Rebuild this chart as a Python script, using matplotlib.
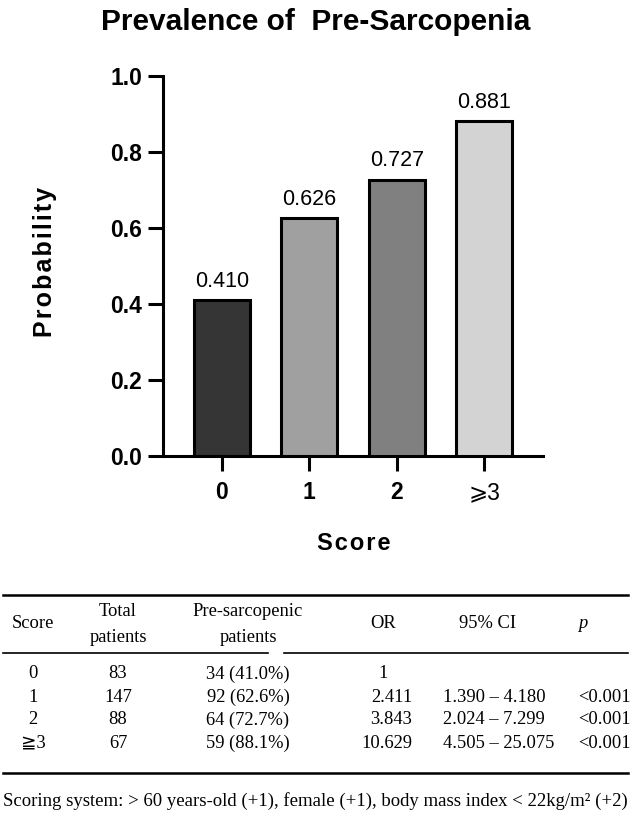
import matplotlib
matplotlib.use("Agg")
import matplotlib.pyplot as plt
from matplotlib.lines import Line2D

# ---- data ----
categories = ["0", "1", "2", "\u2A7E3"]
probability = [0.410, 0.626, 0.727, 0.881]
bar_colors = ["#353535", "#a0a0a0", "#808080", "#d3d3d3"]
y_ticks = [0.0, 0.2, 0.4, 0.6, 0.8, 1.0]

tbl_header = [["Score"], ["Total", "patients"], ["Pre-sarcopenic", "patients"], ["OR"], ["95% CI"], ["p"]]
tbl_score = ["0", "1", "2", "\u22673"]
tbl_total = ["83", "147", "88", "67"]
tbl_pre = ["34 (41.0%)", "92 (62.6%)", "64 (72.7%)", "59 (88.1%)"]
tbl_or = ["1", "2.411", "3.843", "10.629"]
tbl_ci = ["", "1.390 \u2013 4.180", "2.024 \u2013 7.299", "4.505 \u2013 25.075"]
tbl_p = ["", "<0.001", "<0.001", "<0.001"]
footnote = "Scoring system: > 60 years-old (+1), female (+1), body mass index < 22kg/m\u00b2 (+2)"

W, H = 632, 815
fig = plt.figure(figsize=(W / 100, H / 100), dpi=100)
fig.patch.set_facecolor("white")

def fx(x):
    return x / W

def fy(y):
    return 1 - y / H

def spaced(s, sep="\u200a"):
    return sep.join(list(s))

sans = ["Liberation Sans", "DejaVu Sans"]
serif = ["Liberation Serif", "DejaVu Serif", "DejaVu Sans", "Noto Sans CJK JP"]

ax = fig.add_axes([fx(163), fy(456), fx(543) - fx(163), fy(76) - fy(456)])
xs = list(range(len(categories)))
ax.bar(xs, probability, width=0.64, color=bar_colors, edgecolor="black", linewidth=2.2, zorder=3)
for x, v in zip(xs, probability):
    ax.annotate(f"{v:.3f}", (x, v), xytext=(0, 6), textcoords="offset points",
                ha="center", va="bottom", fontsize=15.5, family=sans)

ax.set_xlim(-0.674, 3.674)
ax.set_ylim(0, 1.0)
ax.set_yticks(y_ticks)
ax.set_yticklabels([f"{t:.1f}" for t in y_ticks], fontsize=16.5, fontweight="bold", family=sans)
ax.set_xticks(xs)
ax.set_xticklabels(categories, fontsize=16.5, fontweight="bold", family=sans)
ax.get_xticklabels()[-1].set_fontweight("normal")
for sp in ["top", "right"]:
    ax.spines[sp].set_visible(False)
for sp in ["left", "bottom"]:
    ax.spines[sp].set_linewidth(2.2)
ax.tick_params(axis="both", width=2.2, length=11, color="black")
ax.tick_params(axis="x", pad=7)
ax.tick_params(axis="y", pad=4)
ax.set_ylabel(spaced("Probability"), fontsize=18, fontweight="bold", family=sans, va="center")
ax.yaxis.set_label_coords(-0.31, 0.51)
ax.set_xlabel(spaced("Score"), fontsize=17, fontweight="bold", family=sans, va="center")
ax.xaxis.set_label_coords(0.501, -0.229)
fig.text(fx(316), fy(22), "Prevalence of  Pre-Sarcopenia", ha="center", va="center",
         fontsize=21.5, fontweight="bold", family=sans)

# ---- table ----
def hline(x0, x1, y, lw):
    fig.add_artist(Line2D([fx(x0), fx(x1)], [fy(y), fy(y)], color="black", linewidth=lw))

hline(3, 628, 595, 1.8)
hline(3, 268, 653, 1.2)
hline(284, 628, 653, 1.2)
hline(3, 628, 773, 1.8)

fs = 13.3
col_x = [33, 118, 248, 383, 488, 583]
for i, (cx, hdr) in enumerate(zip(col_x, tbl_header)):
    if len(hdr) == 1:
        if i == 5:
            fig.text(fx(cx), fy(623), hdr[0], ha="center", va="center",
                     fontsize=fs, family=serif, style="italic")
        else:
            fig.text(fx(cx), fy(623), hdr[0], ha="center", va="center", fontsize=fs, family=serif)
    else:
        fig.text(fx(cx), fy(612), hdr[0], ha="center", va="center", fontsize=fs, family=serif)
        fig.text(fx(cx), fy(637), hdr[1], ha="center", va="center", fontsize=fs, family=serif)

row_y = [674, 697, 720, 743]
for r, y in enumerate(row_y):
    fig.text(fx(33), fy(y), tbl_score[r], ha="center", va="center", fontsize=fs, family=serif)
    fig.text(fx(118), fy(y), tbl_total[r], ha="center", va="center", fontsize=fs, family=serif)
    fig.text(fx(248), fy(y), tbl_pre[r], ha="center", va="center", fontsize=fs, family=serif)
    if r == 0:
        fig.text(fx(383), fy(y), tbl_or[r], ha="center", va="center", fontsize=fs, family=serif)
    else:
        fig.text(fx(412), fy(y), tbl_or[r], ha="right", va="center", fontsize=fs, family=serif)
    fig.text(fx(443), fy(y), tbl_ci[r], ha="left", va="center", fontsize=fs, family=serif)
    fig.text(fx(578), fy(y), tbl_p[r], ha="left", va="center", fontsize=fs, family=serif)

fig.text(fx(3), fy(801), footnote, ha="left", va="center", fontsize=13.5, family=serif)

fig.savefig("out.png", dpi=100, facecolor="white")
